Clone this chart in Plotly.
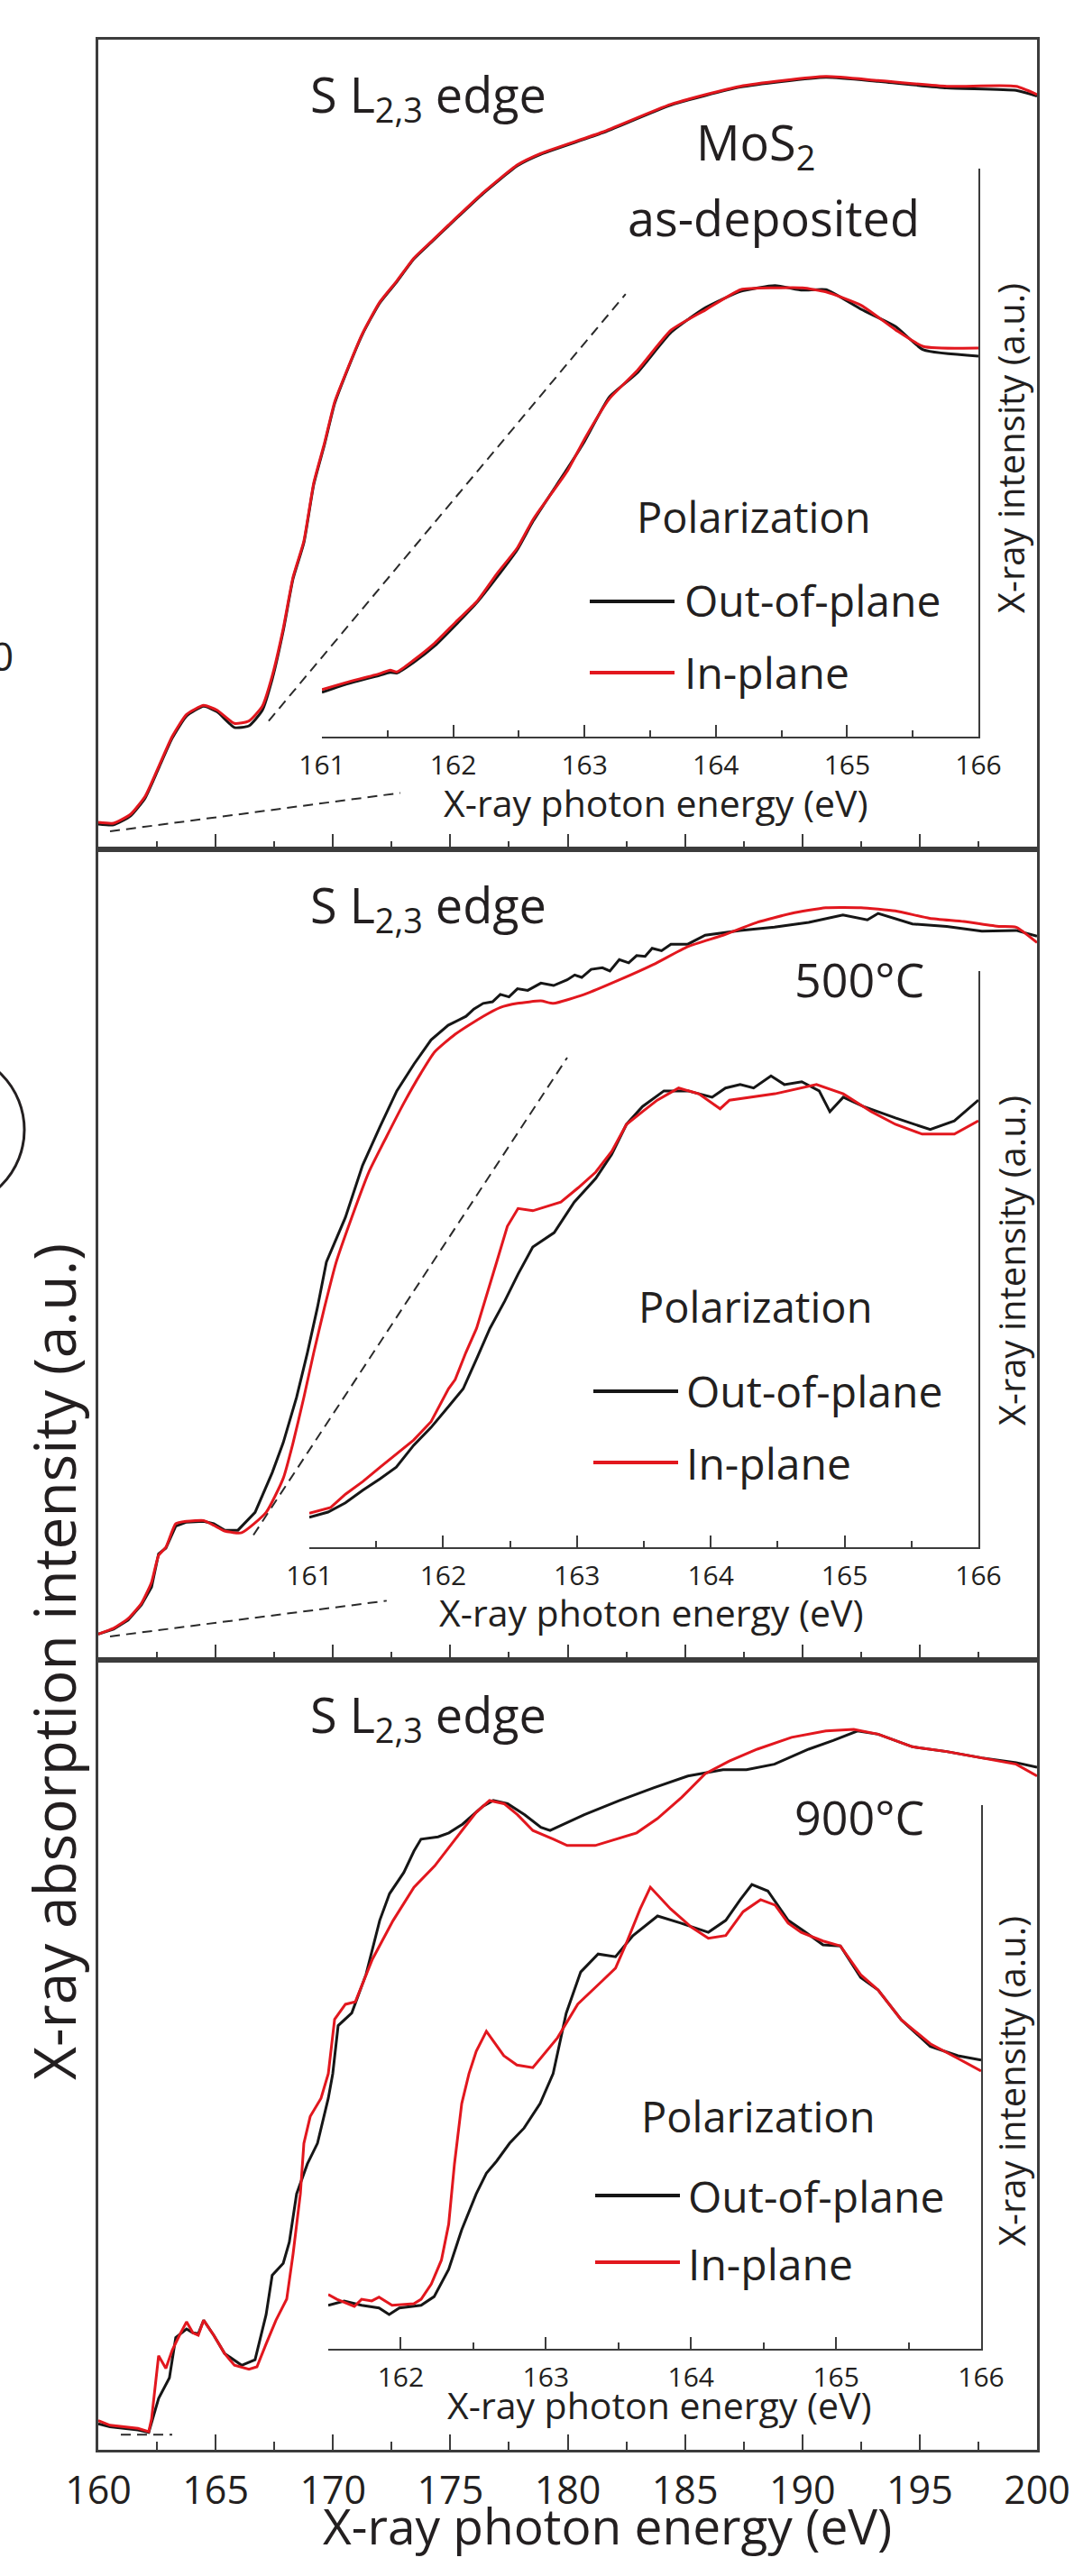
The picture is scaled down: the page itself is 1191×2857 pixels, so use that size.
import plotly.graph_objects as go

W, H = 1191, 2857
FONT = "Open Sans"
INK = "#231f20"
FRAME = "#3c3c3c"
RED = "#e2171e"
BLK = "#161616"

# ---------------- tick values ----------------
main_ticks = [160, 165, 170, 175, 180, 185, 190, 195, 200]
main_minor = [162.5, 167.5, 172.5, 177.5, 182.5, 187.5, 192.5, 197.5]
inset_ticks = [161, 162, 163, 164, 165, 166]
inset_minor = [161.5, 162.5, 163.5, 164.5, 165.5]
inset3_ticks = [162, 163, 164, 165, 166]
inset3_minor = [161.5, 162.5, 163.5, 164.5, 165.5]

# ---------------- as-deposited MoS2 : full S L2,3 spectrum ----------------
asdep_ev = [160.00, 160.65, 161.38, 162.00, 162.57, 163.15, 163.76, 164.49, 165.07, 165.80,
            166.42, 166.99, 167.41, 167.88, 168.30, 168.76, 169.18, 169.64, 170.07, 170.53,
            171.26, 171.99, 172.72, 173.45, 174.18, 174.91, 176.40, 177.86, 178.86, 181.48,
            184.40, 187.35, 191.00, 193.23, 196.15, 199.11, 200.00]
asdep_in = [0.033, 0.032, 0.043, 0.065, 0.101, 0.138, 0.165, 0.176, 0.170, 0.154,
            0.157, 0.175, 0.212, 0.270, 0.333, 0.377, 0.448, 0.497, 0.547, 0.581,
            0.631, 0.669, 0.695, 0.723, 0.743, 0.763, 0.803, 0.837, 0.851, 0.877,
            0.911, 0.933, 0.945, 0.940, 0.933, 0.933, 0.923]
asdep_out = [0.031, 0.030, 0.041, 0.063, 0.099, 0.136, 0.163, 0.175, 0.168, 0.149,
             0.151, 0.170, 0.208, 0.267, 0.331, 0.375, 0.446, 0.495, 0.545, 0.580,
             0.630, 0.668, 0.694, 0.722, 0.742, 0.762, 0.802, 0.836, 0.850, 0.876,
             0.910, 0.932, 0.944, 0.939, 0.931, 0.928, 0.921]

# as-deposited : pre-edge zoom 161-166 eV
asdep_zoom_ev = [161.00, 161.18, 161.44, 161.52, 161.57, 161.70, 161.86, 162.02, 162.18, 162.33,
                 162.49, 162.61, 162.87, 163.00, 163.19, 163.40, 163.66, 163.92, 164.19, 164.45,
                 164.66, 164.84, 165.11, 165.37, 165.58, 166.00]
asdep_zoom_in = [0.083, 0.095, 0.111, 0.117, 0.114, 0.135, 0.165, 0.202, 0.238, 0.286,
                 0.333, 0.383, 0.468, 0.524, 0.595, 0.644, 0.716, 0.751, 0.787, 0.790,
                 0.790, 0.783, 0.759, 0.716, 0.687, 0.684]
asdep_zoom_out = [0.078, 0.092, 0.108, 0.113, 0.112, 0.131, 0.160, 0.197, 0.236, 0.280,
                  0.330, 0.380, 0.472, 0.520, 0.598, 0.640, 0.712, 0.755, 0.784, 0.794,
                  0.786, 0.787, 0.752, 0.722, 0.681, 0.670]

# ---------------- 500 C : full spectrum ----------------
t500_out_ev = [160.00, 160.65, 161.27, 161.84, 162.27, 162.57, 162.88, 163.30, 163.76, 164.49,
               164.92, 165.38, 165.95, 166.68, 167.41, 167.88, 168.45, 168.91, 169.34, 169.72,
               170.53, 171.26, 171.99, 172.72, 173.45, 174.18, 174.91, 175.67, 176.00, 176.40,
               176.80, 177.13, 177.50, 177.86, 178.30, 178.86, 179.40, 179.98, 180.30, 180.60,
               181.00, 181.48, 181.80, 182.20, 182.60, 182.94, 183.30, 183.60, 184.00, 184.40,
               185.12, 185.86, 187.35, 188.81, 190.27, 191.73, 192.77, 193.23, 194.69, 196.15,
               197.65, 199.11, 200.00]
t500_out = [0.032, 0.038, 0.049, 0.068, 0.090, 0.131, 0.138, 0.165, 0.170, 0.171,
            0.168, 0.160, 0.160, 0.182, 0.231, 0.268, 0.324, 0.379, 0.435, 0.491,
            0.546, 0.610, 0.657, 0.702, 0.735, 0.765, 0.783, 0.794, 0.803, 0.810,
            0.812, 0.821, 0.818, 0.828, 0.826, 0.835, 0.832, 0.839, 0.845, 0.842,
            0.852, 0.854, 0.850, 0.864, 0.860, 0.869, 0.868, 0.878, 0.875, 0.883,
            0.883, 0.894, 0.900, 0.904, 0.910, 0.919, 0.913, 0.921, 0.908, 0.905,
            0.899, 0.900, 0.893]
t500_in_ev = [160.00, 160.65, 161.27, 161.84, 162.27, 162.57, 162.88, 163.30, 163.76, 164.49,
              164.92, 165.38, 166.11, 167.15, 167.88, 168.30, 168.76, 169.18, 169.64, 170.14,
              170.80, 171.53, 172.29, 173.02, 173.75, 174.33, 175.21, 176.40, 177.13, 177.86,
              178.86, 179.40, 180.71, 182.21, 183.66, 185.12, 186.62, 188.08, 189.54, 191.00,
              192.50, 193.96, 195.42, 196.88, 198.38, 199.11, 200.00]
t500_in = [0.032, 0.039, 0.051, 0.070, 0.096, 0.129, 0.139, 0.168, 0.171, 0.172,
           0.166, 0.159, 0.157, 0.182, 0.224, 0.268, 0.324, 0.379, 0.435, 0.491,
           0.546, 0.602, 0.646, 0.687, 0.724, 0.750, 0.772, 0.794, 0.805, 0.810,
           0.813, 0.810, 0.821, 0.839, 0.858, 0.880, 0.894, 0.910, 0.921, 0.928,
           0.928, 0.924, 0.915, 0.911, 0.905, 0.904, 0.885]

# 500 C : pre-edge zoom
t500_zoom_out_ev = [161.00, 161.14, 161.27, 161.40, 161.53, 161.65, 161.78, 161.91, 162.04, 162.15,
                    162.25, 162.35, 162.46, 162.56, 162.67, 162.83, 162.98, 163.14, 163.26, 163.37,
                    163.49, 163.65, 163.83, 164.01, 164.11, 164.22, 164.32, 164.45, 164.55, 164.68,
                    164.81, 164.89, 164.99, 165.14, 165.38, 165.64, 165.82, 166.00]
t500_zoom_out = [0.052, 0.061, 0.077, 0.099, 0.119, 0.139, 0.177, 0.208, 0.244, 0.275,
                 0.327, 0.380, 0.427, 0.474, 0.521, 0.546, 0.599, 0.640, 0.682, 0.734,
                 0.765, 0.792, 0.792, 0.781, 0.797, 0.803, 0.797, 0.818, 0.803, 0.808,
                 0.792, 0.756, 0.781, 0.765, 0.745, 0.725, 0.740, 0.776]
t500_zoom_in_ev = [161.00, 161.16, 161.27, 161.40, 161.53, 161.65, 161.78, 161.91, 162.04, 162.09,
                   162.17, 162.25, 162.33, 162.40, 162.48, 162.56, 162.67, 162.88, 163.01, 163.14,
                   163.26, 163.37, 163.49, 163.60, 163.76, 163.91, 164.07, 164.14, 164.48, 164.79,
                   164.99, 165.20, 165.38, 165.58, 165.82, 166.00]
t500_zoom_in = [0.059, 0.069, 0.092, 0.114, 0.139, 0.161, 0.186, 0.218, 0.275, 0.291,
                0.338, 0.380, 0.443, 0.495, 0.557, 0.588, 0.584, 0.599, 0.624, 0.651,
                0.687, 0.734, 0.756, 0.776, 0.797, 0.787, 0.761, 0.776, 0.787, 0.803,
                0.787, 0.756, 0.734, 0.717, 0.717, 0.740]

# ---------------- 900 C : full spectrum ----------------
t900_in_ev = [160.00, 160.50, 161.69, 162.15, 162.27, 162.57, 162.88, 163.15, 163.46, 163.76,
              164.03, 164.26, 164.49, 164.92, 165.38, 165.80, 166.42, 166.76, 167.15, 167.57,
              168.03, 168.30, 168.61, 168.76, 169.03, 169.49, 169.80, 170.07, 170.53, 170.95,
              171.68, 172.56, 173.45, 174.33, 175.21, 176.10, 176.67, 177.29, 177.86, 178.52,
              179.40, 179.98, 181.17, 182.94, 183.82, 184.86, 185.86, 186.89, 188.08, 189.54,
              191.00, 192.19, 193.23, 194.69, 196.15, 197.65, 199.11, 200.00]
t900_in = [0.037, 0.031, 0.027, 0.023, 0.039, 0.119, 0.103, 0.126, 0.145, 0.162,
           0.148, 0.145, 0.164, 0.145, 0.122, 0.107, 0.102, 0.105, 0.134, 0.164,
           0.191, 0.248, 0.324, 0.388, 0.422, 0.445, 0.476, 0.545, 0.564, 0.567,
           0.621, 0.670, 0.712, 0.739, 0.773, 0.807, 0.822, 0.818, 0.804, 0.784,
           0.773, 0.765, 0.765, 0.781, 0.799, 0.826, 0.856, 0.872, 0.887, 0.902,
           0.910, 0.912, 0.906, 0.890, 0.884, 0.876, 0.868, 0.853]
t900_out_ev = [160.00, 160.50, 161.69, 162.15, 162.57, 163.03, 163.30, 163.76, 164.03, 164.26,
               164.49, 164.92, 165.38, 166.11, 166.68, 167.15, 167.41, 167.88, 168.14, 168.45,
               168.91, 169.34, 169.80, 169.99, 170.22, 170.80, 171.41, 171.99, 172.41, 173.02,
               173.45, 173.75, 174.48, 174.94, 175.52, 176.40, 176.83, 177.44, 178.17, 178.86,
               179.25, 180.71, 182.21, 183.66, 185.12, 186.62, 187.62, 188.81, 190.27, 191.31,
               192.35, 193.23, 194.69, 196.15, 197.65, 199.11, 200.00]
t900_out = [0.033, 0.029, 0.025, 0.022, 0.065, 0.091, 0.142, 0.153, 0.148, 0.147,
            0.164, 0.145, 0.122, 0.107, 0.114, 0.171, 0.221, 0.236, 0.263, 0.324,
            0.362, 0.388, 0.445, 0.476, 0.537, 0.553, 0.602, 0.670, 0.704, 0.731,
            0.758, 0.773, 0.776, 0.781, 0.792, 0.815, 0.822, 0.818, 0.804, 0.788,
            0.784, 0.804, 0.822, 0.838, 0.853, 0.861, 0.861, 0.868, 0.887, 0.898,
            0.910, 0.906, 0.890, 0.884, 0.876, 0.870, 0.864]

# 900 C : pre-edge zoom
t900_zoom_in_ev = [161.50, 161.56, 161.68, 161.73, 161.80, 161.85, 161.94, 162.09, 162.14, 162.21,
                   162.28, 162.33, 162.37, 162.42, 162.47, 162.52, 162.59, 162.71, 162.80, 162.91,
                   163.08, 163.22, 163.39, 163.48, 163.55, 163.65, 163.72, 163.86, 164.00, 164.12,
                   164.24, 164.36, 164.48, 164.58, 164.67, 164.76, 164.91, 165.03, 165.17, 165.29,
                   165.45, 165.65, 165.84, 166.00]
t900_zoom_in = [0.100, 0.091, 0.078, 0.091, 0.088, 0.095, 0.080, 0.083, 0.091, 0.119,
                0.163, 0.229, 0.340, 0.451, 0.506, 0.547, 0.584, 0.539, 0.522, 0.517,
                0.572, 0.634, 0.677, 0.700, 0.743, 0.809, 0.849, 0.809, 0.776, 0.755,
                0.760, 0.804, 0.826, 0.816, 0.783, 0.766, 0.750, 0.741, 0.688, 0.660,
                0.605, 0.561, 0.534, 0.511]
t900_zoom_out_ev = [161.50, 161.61, 161.73, 161.85, 161.92, 161.99, 162.14, 162.23, 162.33, 162.42,
                    162.52, 162.59, 162.66, 162.75, 162.85, 162.96, 163.05, 163.14, 163.24, 163.36,
                    163.48, 163.60, 163.77, 163.93, 164.12, 164.24, 164.34, 164.42, 164.53, 164.67,
                    164.79, 164.91, 165.03, 165.17, 165.29, 165.45, 165.65, 165.84, 166.00]
t900_zoom_out = [0.080, 0.088, 0.080, 0.075, 0.063, 0.075, 0.080, 0.096, 0.146, 0.219,
                 0.285, 0.323, 0.345, 0.378, 0.406, 0.451, 0.506, 0.617, 0.693, 0.726,
                 0.721, 0.760, 0.796, 0.783, 0.766, 0.788, 0.826, 0.854, 0.842, 0.788,
                 0.766, 0.743, 0.741, 0.683, 0.660, 0.605, 0.556, 0.539, 0.531]

# ---------------- dashed zoom guides (eV, a.u.) ----------------
asdep_guide_hi_ev, asdep_guide_hi = [167.26, 182.47], [0.157, 0.679]
asdep_guide_lo_ev, asdep_guide_lo = [160.50, 172.87], [0.022, 0.069]
t500_guide_hi_ev, t500_guide_hi = [166.61, 179.98], [0.154, 0.743]
t500_guide_lo_ev, t500_guide_lo = [160.50, 172.29], [0.029, 0.073]
t900_guide_lo_ev, t900_guide_lo = [160.96, 163.15], [0.019, 0.019]


def px_x(x):
    return x / W


def px_y(y):
    return 1 - y / H


fig = go.Figure()


def add_line(x, y, color, xa, ya, width=3.0, dash=None, smooth=False):
    line = dict(color=color, width=width, dash=dash)
    if smooth:
        line.update(shape="spline", smoothing=0.5)
    fig.add_trace(go.Scatter(
        x=x, y=y, mode="lines", xaxis=xa, yaxis=ya, showlegend=False, hoverinfo="skip",
        line=line))


GUIDE_DASH = "11px,7px"
GUIDE = "#2a2a2a"

# panel (a) as-deposited
add_line(asdep_guide_hi_ev, asdep_guide_hi, GUIDE, "x", "y", 2, GUIDE_DASH)
add_line(asdep_guide_lo_ev, asdep_guide_lo, GUIDE, "x", "y", 2, GUIDE_DASH)
add_line(asdep_ev, asdep_out, BLK, "x", "y", smooth=True)
add_line(asdep_ev, asdep_in, RED, "x", "y", smooth=True)
add_line(asdep_zoom_ev, asdep_zoom_out, BLK, "x4", "y4", smooth=True)
add_line(asdep_zoom_ev, asdep_zoom_in, RED, "x4", "y4", smooth=True)

# panel (b) 500 C
add_line(t500_guide_hi_ev, t500_guide_hi, GUIDE, "x2", "y2", 2, GUIDE_DASH)
add_line(t500_guide_lo_ev, t500_guide_lo, GUIDE, "x2", "y2", 2, GUIDE_DASH)
add_line(t500_out_ev, t500_out, BLK, "x2", "y2")
add_line(t500_in_ev, t500_in, RED, "x2", "y2", smooth=True)
add_line(t500_zoom_out_ev, t500_zoom_out, BLK, "x5", "y5")
add_line(t500_zoom_in_ev, t500_zoom_in, RED, "x5", "y5")

# panel (c) 900 C
add_line(t900_guide_lo_ev, t900_guide_lo, GUIDE, "x3", "y3", 2, GUIDE_DASH)
add_line(t900_out_ev, t900_out, BLK, "x3", "y3")
add_line(t900_in_ev, t900_in, RED, "x3", "y3")
add_line(t900_zoom_out_ev, t900_zoom_out, BLK, "x6", "y6")
add_line(t900_zoom_in_ev, t900_zoom_in, RED, "x6", "y6")

MAIN_X_DOM = [px_x(109), px_x(1150)]


def main_xaxis(anchor, labels):
    return dict(
        domain=MAIN_X_DOM, anchor=anchor, range=[160, 200], automargin=False,
        showline=True, mirror=True, linecolor=FRAME, linewidth=2.5,
        ticks="inside", tickvals=main_ticks, ticklen=17, tickwidth=2, tickcolor=FRAME,
        minor=dict(ticks="inside", tickvals=main_minor, ticklen=9, tickwidth=2, tickcolor=FRAME),
        showticklabels=labels, ticklabelstandoff=6,
        tickfont=dict(family=FONT, size=43, color=INK),
        showgrid=False, zeroline=False, fixedrange=True)


def main_yaxis(anchor, y_top, y_bot, top_val):
    return dict(
        domain=[px_y(y_bot), px_y(y_top)], anchor=anchor, range=[0, top_val], automargin=False,
        showline=True, mirror=True, linecolor=FRAME, linewidth=2.5,
        ticks="", showticklabels=False, showgrid=False, zeroline=False, fixedrange=True)


def inset_xaxis(anchor, x0, x1, rng, ticks, minor):
    return dict(
        domain=[px_x(x0), px_x(x1)], anchor=anchor, range=rng, automargin=False,
        showline=True, linecolor=FRAME, linewidth=2.2,
        ticks="inside", tickvals=ticks, ticklen=13, tickwidth=2, tickcolor=FRAME,
        minor=dict(ticks="inside", tickvals=minor, ticklen=7, tickwidth=2, tickcolor=FRAME),
        showticklabels=True, ticklabelstandoff=4,
        tickfont=dict(family=FONT, size=30, color=INK),
        showgrid=False, zeroline=False, fixedrange=True)


def inset_yaxis(anchor, y_top, y_bot):
    return dict(
        domain=[px_y(y_bot), px_y(y_top)], anchor=anchor, side="right", range=[0, 1],
        automargin=False, showline=True, linecolor=FRAME, linewidth=2.2,
        ticks="", showticklabels=False, showgrid=False, zeroline=False, fixedrange=True)


layout = dict(
    width=W, height=H,
    margin=dict(l=0, r=0, t=0, b=0, pad=0, autoexpand=False),
    paper_bgcolor="white", plot_bgcolor="rgba(0,0,0,0)", showlegend=False,
    xaxis=main_xaxis("y", False),
    yaxis=main_yaxis("x", 44, 942, 0.990),
    xaxis2=main_xaxis("y2", False),
    yaxis2=main_yaxis("x2", 942, 1841, 1.0),
    xaxis3=main_xaxis("y3", True),
    yaxis3=main_yaxis("x3", 1841, 2717, 1.0),
    xaxis4=inset_xaxis("y4", 357, 1085, [161, 166], inset_ticks, inset_minor),
    yaxis4=inset_yaxis("x4", 187, 817),
    xaxis5=inset_xaxis("y5", 343, 1085, [161, 166], inset_ticks, inset_minor),
    yaxis5=inset_yaxis("x5", 1077, 1716),
    xaxis6=inset_xaxis("y6", 364, 1088, [161.5, 166], inset3_ticks, inset3_minor),
    yaxis6=inset_yaxis("x6", 2002, 2605),
)


def note(text, x, y, size, xanchor="center", angle=0):
    return dict(text=text, x=px_x(x), y=px_y(y), xref="paper", yref="paper",
                showarrow=False, xanchor=xanchor, yanchor="middle", textangle=angle,
                font=dict(family=FONT, size=size, color=INK))


edge = "S L<sub>2,3</sub> edge"
annotations = [
    note(edge, 342, 107, 54, "left"),
    note(edge, 342, 1006, 54, "left"),
    note(edge, 342, 1904, 54, "left"),
    note("MoS<sub>2</sub>", 838, 160, 54),
    note("as-deposited", 858, 241, 54),
    note("500°C", 953, 1086, 52),
    note("900°C", 953, 2014, 52),
    note("Polarization", 835, 573, 47),
    note("Out-of-plane", 757, 665, 48, "left"),
    note("In-plane", 757, 745, 48, "left"),
    note("Polarization", 837, 1449, 47),
    note("Out-of-plane", 759, 1542, 48, "left"),
    note("In-plane", 759, 1622, 48, "left"),
    note("Polarization", 840, 2347, 47),
    note("Out-of-plane", 761, 2435, 48, "left"),
    note("In-plane", 761, 2510, 48, "left"),
    note("X-ray photon energy (eV)", 727, 890, 41),
    note("X-ray photon energy (eV)", 722, 1788, 41),
    note("X-ray photon energy (eV)", 731, 2667, 41),
    note("X-ray intensity (a.u.)", 1121, 497, 40, angle=-90),
    note("X-ray intensity (a.u.)", 1121, 1398, 40, angle=-90),
    note("X-ray intensity (a.u.)", 1121, 2308, 40, angle=-90),
    note("X-ray photon energy (eV)", 673, 2800, 55),
    note("X-ray absorption intensity (a.u.)", 60, 1843, 64, angle=-90),
    note("0", 2, 727, 44),
]


def hline(x0, x1, y, color):
    return dict(type="line", xref="paper", yref="paper",
                x0=px_x(x0), x1=px_x(x1), y0=px_y(y), y1=px_y(y),
                line=dict(color=color, width=4))


shapes = [
    hline(654, 748, 667, BLK), hline(654, 748, 746, RED),
    hline(658, 752, 1543, BLK), hline(658, 752, 1622, RED),
    hline(660, 754, 2435, BLK), hline(660, 754, 2509, RED),
    dict(type="circle", xref="paper", yref="paper",
         x0=px_x(-147), x1=px_x(27), y0=px_y(1340), y1=px_y(1166),
         line=dict(color=INK, width=3)),
]

layout["annotations"] = annotations
layout["shapes"] = shapes
fig.update_layout(**layout)

fig.write_html("out.html")
